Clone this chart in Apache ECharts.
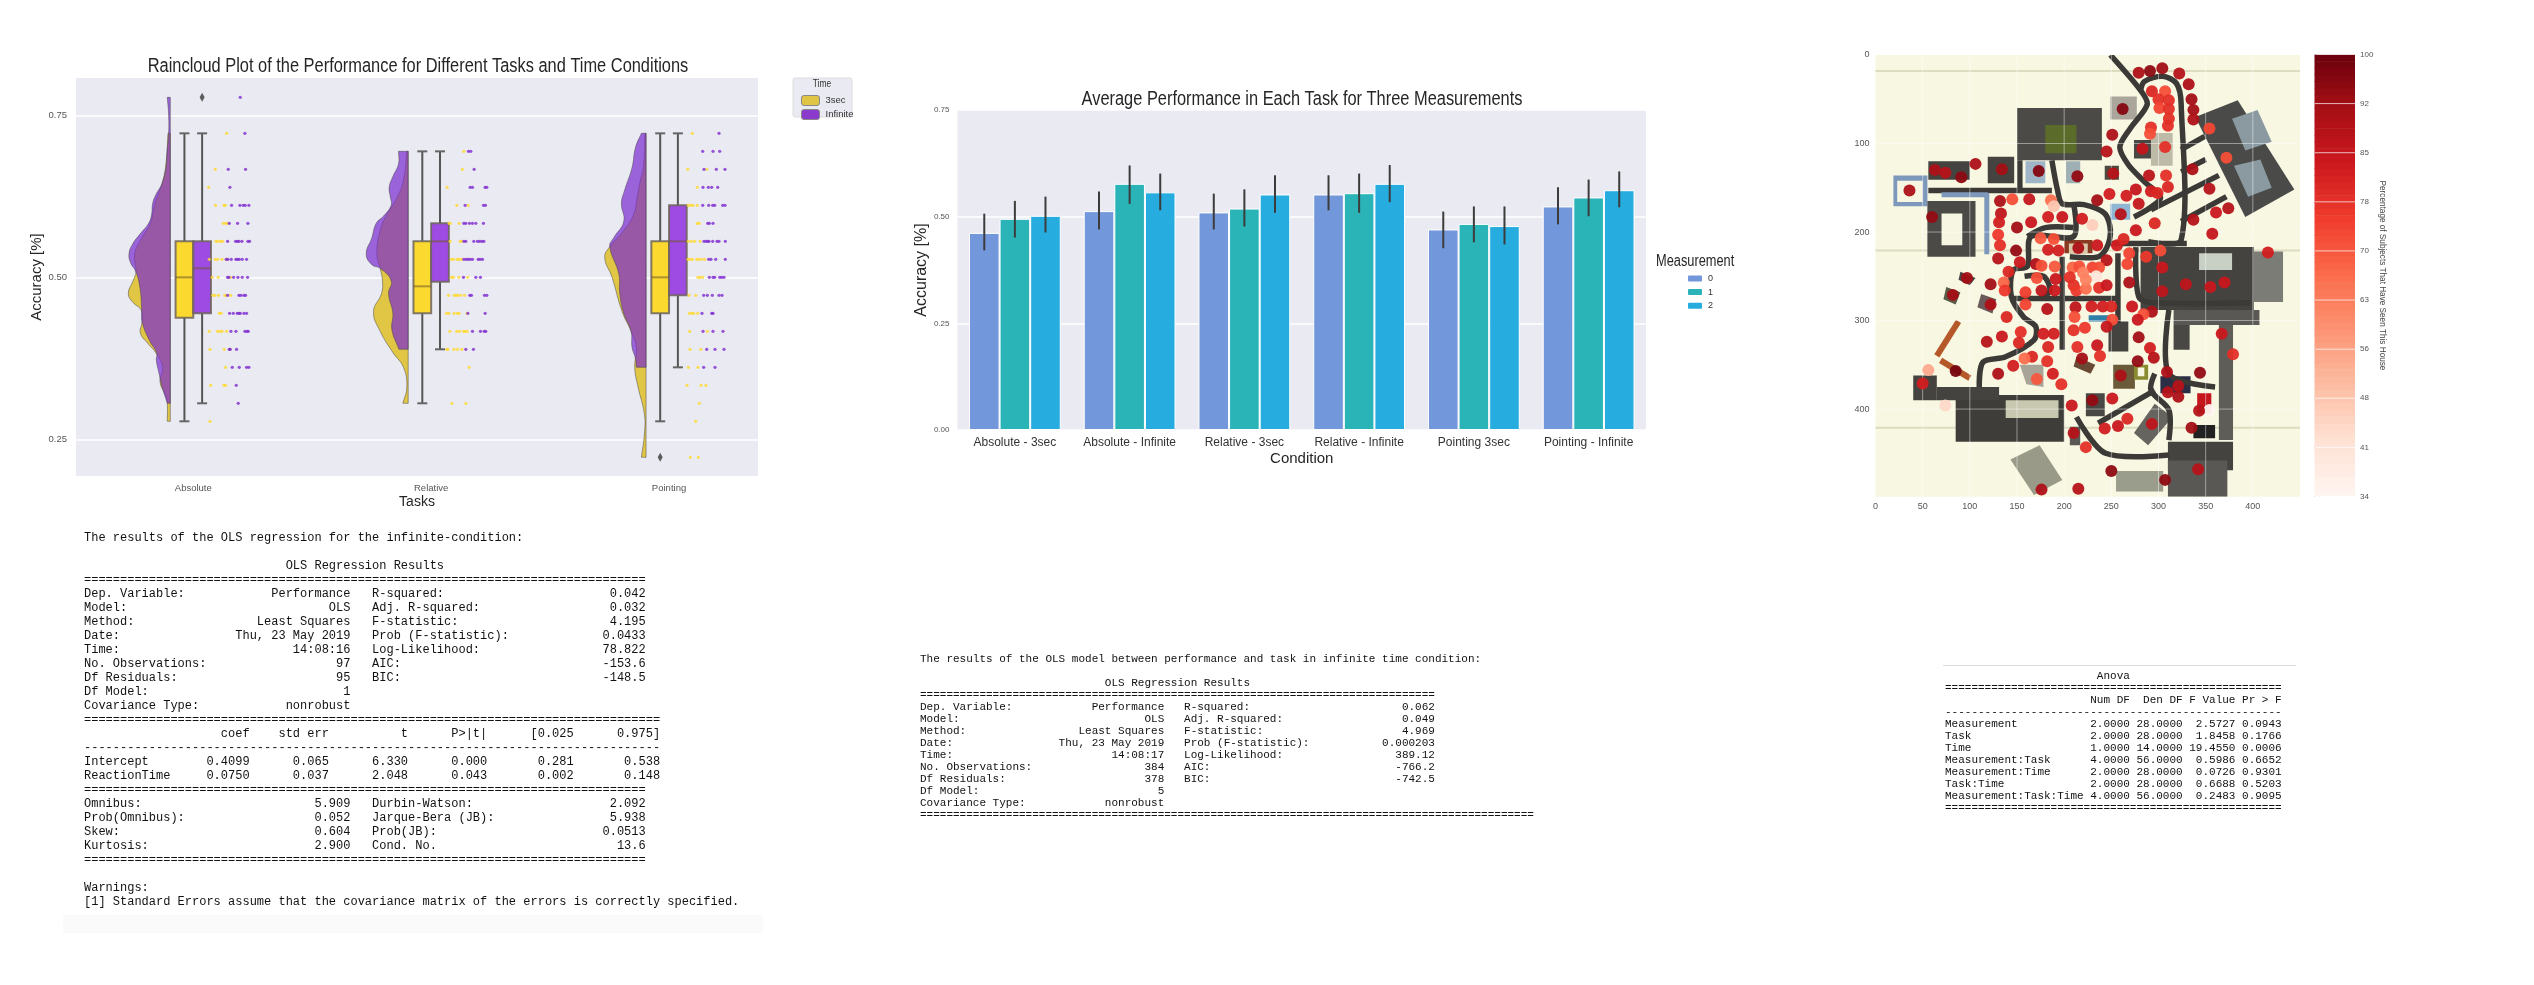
<!DOCTYPE html>
<html><head><meta charset="utf-8">
<style>html,body{margin:0;padding:0;background:#fff}#c{width:2534px;height:985px}</style>
<script src="https://cdn.jsdelivr.net/npm/echarts@6/dist/echarts.min.js"></script>
</head><body><div id="c"></div>
<script>
/* ---------- Raincloud chart data ---------- */
const tasks = ['Absolute', 'Relative', 'Pointing'];
const accuracyTicks = [0.25, 0.5, 0.75];
/* accuracy is stored in correct-answer levels (level / 36) */
const LEVELS = 36;
/* violin outlines: [level, density] */
const violin3sec = [
  [[26,7],[24.5,12],[23.4,22],[22.1,46],[21,60],[20.2,85],[19.3,107],[18.3,103],[17.8,112],[17.1,126],[16.6,112],[16.2,88],[15.5,85],[14.9,90],[14.3,66],[13.8,43],[13,23],[12.2,31],[11.4,13],[11,9],[10,9]],
  [[25,4],[23.4,14],[22.4,34],[21.5,64],[20.6,84],[19.3,94],[18.5,84],[17.8,77],[17.1,80],[16.1,104],[15,84],[13.8,45],[13,14],[11.9,4],[11,16]],
  [[26,3],[24.1,8],[23.4,17],[22.4,27],[21.5,37],[20.6,67],[19.7,109],[19.1,124],[18,102],[16.1,72],[15,45],[14.1,29],[13,34],[11.9,24],[10.4,5],[9.3,5],[8,14]]
];
const violinInfinite = [
  [[28,9],[27,5],[26,5],[24.9,10],[24.1,13],[23.2,25],[22.6,43],[22.1,53],[21.5,56],[21,65],[20.4,91],[19.85,113],[19.3,124],[18.8,119],[18.3,103],[17.4,91],[16.3,86],[15.5,84],[14.5,63],[13.8,41],[13.4,42],[12.6,33],[12,26],[11.4,16],[11,9]],
  [[25,29],[24.3,29],[23.6,46],[23,57],[22.5,54],[22,51],[21.4,74],[21,96],[20.2,109],[19.3,126],[18.7,109],[18.5,84],[17.8,51],[17.1,59],[16,46],[15.1,49],[14,28]],
  [[26,14],[25.2,32],[24.1,42],[22.8,65],[22.1,74],[21.1,67],[20.2,97],[19.7,109],[18.2,82],[17.1,79],[16,67],[15,45],[14.1,42],[13.5,32],[13,29]]
];
/* boxes: [low whisker, q1, median, q3, high whisker] */
const box3sec = [[0.2778,0.4375,0.5,0.5556,0.7222],[0.3056,0.4444,0.4861,0.5556,0.6944],[0.2778,0.4444,0.5,0.5556,0.7222]];
const boxInfinite = [[0.3056,0.4444,0.5139,0.5556,0.7222],[0.3889,0.4931,0.5556,0.5833,0.6944],[0.3611,0.4722,0.5556,0.6111,0.7222]];
/* rain rows: [level, jitter offsets] */
const rain3sec = [
  [[26,[100]],[24,[66]],[23,[46]],[22,[67,92,96]],[21,[90,97,103]],[20,[68,74,82,88]],[19,[48,66,73,86,100]],[18,[57,75,112]],[17,[59,65,76,95,100,112]],[16,[78,84]],[15,[48,73,80,86,100]],[14,[50,93,110]],[13,[97]],[12,[52,92,97]],[10,[50]]],
  [[25,[98]],[24,[94]],[23,[48]],[22,[77,111]],[21,[54,57,84]],[20,[57,87,92]],[19,[61,67,78,84,91]],[18,[61,67,83,110]],[17,[52,69,75,79,88,100]],[16,[46,53,69,79,84,108]],[15,[56,77,85,97,102,108]],[14,[47,50,68,79,92]],[13,[114]],[11,[62,104]]],
  [[26,[70]],[24,[56,113]],[23,[85]],[22,[58,64,72,85]],[21,[85,91]],[20,[58,67,77,93]],[19,[57,63,70,83,89,98,107]],[18,[87,93,101]],[17,[60,80]],[16,[61,68,74,86]],[15,[62,115]],[14,[63,95]],[13,[58,87]],[12,[54,96,111]],[11,[91]],[10,[80]],[8,[64,88]]]
];
const rainInfinite = [
  [[28,[141]],[26,[155]],[24,[105,157]],[23,[110]],[22,[115,140,150,156,167]],[21,[108,133,164]],[20,[103,127,133,137,146,164,169]],[19,[99,104,114,128,133,138,147,160]],[18,[103,107,121,134,147,163]],[17,[103,137,143,152,157]],[16,[109,120,132,137,141,152,160]],[15,[113,128,155,161,165]],[14,[108,111,130]],[13,[117,138,160,167]],[12,[129]],[11,[135]]],
  [[25,[112,119]],[24,[129]],[23,[117,124,162,167]],[22,[102,157,163]],[21,[98,104,115,124,134,157]],[20,[98,104,128,139,145,152,158]],[19,[98,105,111,117,124,141,147,154]],[18,[97,134,148]],[17,[116,121,160,167]],[16,[110,162]],[15,[124,148,159,164]],[14,[104,127]]],
  [[26,[150]],[25,[101,132,152]],[24,[105,142,168]],[23,[102,118,128,146]],[22,[101,119,131,137,161,168]],[21,[116,121,132]],[20,[105,111,116,120,131,144,150,169]],[19,[119,126,140,169]],[18,[121,132,137,152,158,165]],[17,[104,115,130,150,159]],[16,[99,128,132]],[15,[102,132,162]],[14,[113,138,165]],[13,[104,138]]]
];
/* ---------- Bar chart data ---------- */
const conditions = ['Absolute - 3sec','Absolute - Infinite','Relative - 3sec','Relative - Infinite','Pointing 3sec','Pointing - Infinite'];
const measurement0 = [0.462,0.513,0.510,0.552,0.470,0.524];
const measurement1 = [0.495,0.577,0.519,0.555,0.483,0.545];
const measurement2 = [0.502,0.557,0.552,0.577,0.478,0.562];
const errLow0 = [0.421,0.470,0.470,0.515,0.426,0.482];
const errHigh0 = [0.507,0.559,0.554,0.597,0.512,0.569];
const errLow1 = [0.451,0.530,0.477,0.509,0.440,0.501];
const errHigh1 = [0.537,0.620,0.564,0.601,0.524,0.587];
const errLow2 = [0.463,0.515,0.509,0.534,0.435,0.522];
const errHigh2 = [0.547,0.601,0.597,0.621,0.524,0.606];
/* ---------- House map data: [x, y, percentage] ---------- */
const houses = [[279,20,90],[291,18,95],[304,15,92],[322,21,88],[332,33,90],[335,50,92],[337,62,92],[337,73,90],[262,61,96],[293,41,80],[307,41,72],[300,50,78],[311,51,78],[301,60,74],[311,61,78],[311,72,78],[310,80,78],[292,82,78],[291,89,72],[354,83,73],[251,90,90],[245,109,88],[283,106,85],[307,104,78],[372,116,72],[336,129,90],[252,134,88],[290,136,87],[308,136,78],[354,151,88],[310,149,80],[292,154,82],[299,156,80],[276,152,85],[266,159,82],[248,157,82],[235,164,92],[279,168,85],[260,180,88],[374,173,88],[361,178,84],[337,186,88],[296,190,80],[276,198,84],[357,202,85],[219,185,82],[198,183,84],[183,183,82],[165,189,84],[150,195,92],[163,163,85],[145,163,72],[186,164,66],[189,171,48],[132,165,90],[133,179,86],[131,189,82],[130,203,76],[132,215,78],[149,221,94],[130,230,88],[153,234,84],[141,245,80],[136,257,68],[137,266,76],[122,259,92],[97,252,92],[82,271,92],[122,282,90],[159,268,75],[159,282,74],[139,296,80],[154,313,78],[134,318,84],[118,324,88],[152,325,80],[175,207,70],[189,208,72],[183,220,82],[194,221,82],[215,218,90],[235,215,84],[230,192,46],[256,215,82],[263,208,80],[245,232,88],[269,224,74],[267,236,74],[287,228,76],[302,221,72],[304,240,84],[304,267,86],[269,257,90],[329,259,86],[355,262,84],[370,257,84],[416,223,82],[170,236,90],[176,238,72],[190,239,70],[171,252,72],[191,253,84],[209,240,68],[216,239,72],[230,240,74],[237,240,72],[220,246,62],[234,250,40],[206,251,78],[210,260,78],[213,266,76],[223,264,66],[237,263,78],[245,260,84],[223,254,62],[176,266,86],[190,266,84],[182,287,88],[212,285,86],[229,284,82],[241,284,82],[250,284,80],[272,284,84],[293,290,90],[284,293,72],[278,299,84],[251,299,72],[211,296,72],[222,308,76],[210,311,78],[245,307,85],[178,315,82],[189,315,82],[279,319,92],[183,330,80],[214,330,78],[235,328,84],[291,331,82],[219,343,92],[238,340,78],[166,341,80],[158,343,66],[182,346,78],[146,351,82],[278,346,94],[295,342,88],[85,357,98],[56,356,54],[130,360,90],[188,360,82],[171,366,70],[260,362,90],[309,358,90],[344,359,94],[197,372,78],[50,371,82],[321,374,88],[310,381,88],[321,386,90],[367,315,84],[379,338,78],[230,390,94],[251,388,84],[208,396,84],[74,396,44],[354,401,34],[343,402,88],[267,411,80],[293,417,86],[257,419,84],[243,422,82],[335,421,92],[210,427,88],[223,443,78],[250,470,95],[342,468,88],[307,480,95],[215,490,88],[176,491,90],[36,153,90],[63,130,90],[74,133,88],[91,138,95],[106,123,90],[134,129,92],[173,131,96],[214,137,94],[60,183,94]];
const mapXTicks = [0,50,100,150,200,250,300,350,400];
const mapYTicks = [0,100,200,300,400];
const colorbarTicks = [34,41.33,48.67,56,63.33,70.67,78,85.33,92.67,100];
const redsRamp = ['#fff5f0','#fee0d2','#fcbba1','#fc9272','#fb6a4a','#ef3b2c','#cb181d','#a50f15','#67000d'];
/* underlying town map, in map coordinates */
const mapBlockShapes = [
 [[150,60],[240,60],[240,119],[150,119]],
 [[384,51],[444,152],[392,183],[339,70]],
 [[19,136],[55,136],[55,171],[19,171]],
 [[23,142],[50,142],[50,166],[23,166]],
 [[55,165],[106,165],[106,228],[55,228]],
 [[70,179],[92,179],[92,215],[70,215]],
 [[119,115],[147,115],[147,145],[119,145]],
 [[56,120],[100,120],[100,141],[56,141]],
 [[281,217],[401,217],[401,288],[281,288]],
 [[401,222],[432,222],[432,279],[401,279]],
 [[316,288],[407,288],[407,305],[316,305]],
 [[364,305],[379,305],[379,435],[364,435]],
 [[316,305],[333,305],[333,333],[316,333]],
 [[85,384],[200,384],[200,437],[85,437]],
 [[65,375],[131,375],[131,390],[65,390]],
 [[310,437],[379,437],[379,469],[310,469]],
 [[310,458],[373,458],[373,499],[310,499]],
 [[143,457],[174,441],[198,480],[168,497]],
 [[255,470],[305,470],[305,493],[255,493]],
 [[296,394],[315,409],[289,441],[274,427]],
 [[40,362],[65,362],[65,390],[40,390]],
 [[247,301],[268,301],[268,335],[247,335]],
 [[249,47],[277,47],[277,73],[249,73]],
 [[274,96],[294,96],[294,117],[274,117]],
 [[180,79],[213,79],[213,111],[180,111]],
 [[292,88],[315,88],[315,125],[292,125]],
 [[138,390],[194,390],[194,410],[138,410]],
 [[378,72],[405,62],[420,98],[392,108]],
 [[380,125],[408,118],[420,150],[395,160]],
 [[343,224],[378,224],[378,243],[343,243]],
 [[112,270],[128,276],[124,292],[108,285]],
 [[75,262],[90,268],[85,282],[72,276]],
 [[90,245],[106,252],[100,260],[88,254]],
 [[252,350],[275,350],[275,377],[252,377]],
 [[213,341],[233,350],[228,360],[210,352]],
 [[153,350],[178,350],[178,375],[160,372]],
 [[226,294],[249,294],[249,301],[226,301]],
 [[249,168],[270,168],[270,186],[249,186]],
 [[202,120],[217,120],[217,145],[202,145]],
 [[159,120],[180,120],[180,145],[159,145]],
 [[243,125],[258,125],[258,141],[243,141]],
 [[206,420],[217,420],[217,441],[206,441]],
 [[223,382],[243,382],[243,408],[223,408]],
 [[302,363],[334,363],[334,382],[302,382]],
 [[337,418],[360,418],[360,433],[337,433]],
 [[341,382],[356,382],[356,405],[341,405]],
 [[274,350],[289,350],[289,367],[274,367]],
 [[278,353],[285,353],[285,363],[278,363]],
 [[200,209],[230,209],[230,224],[200,224]],
 [[205,213],[225,213],[225,224],[205,224]]
];
const mapBlockColors = ['#4c4a46','#4a4a48','#7d98bb','#f7f6e2','#4c4a46','#f7f6e2','#45433f','#45433f','#45433f','#7c7c76','#5a5854','#5f5d58','#4a4844','#3f3d3a','#45433f','#45433f','#5a5854','#9a9a88','#9a9c8c','#66645f','#45433f','#45433f','#aaa69c','#4a4844','#5a6b2a','#bdbaa8','#c8c8b0','#8a9aa0','#8a9aa0','#c8cfc4','#6b5a5a','#5a5a48','#444444','#6b5a3a','#6a4a35','#a8a498','#2f7fa8','#8fb6d2','#9fb0b5','#9fb6c8','#4c4a40','#5a5854','#4a4844','#2a2f45','#222222','#c4161c','#8a8a30','#f7f6e2','#8a3a20','#d9c9a9'];
const mapRoads = [
 [[249,0],[281,40],[288,56],[270,83],[259,104],[268,124],[285,143],[302,162],[274,183]],
 [[281,40],[285,30],[304,24],[319,32],[324,55],[324,209],[289,211]],
 [[364,136],[292,175]],[[372,160],[324,188]],[[349,92],[324,107]],[[350,118],[324,132]],
 [[56,153],[187,153]],[[153,153],[153,119]],
 [[187,119],[193,153],[198,168],[221,169],[243,179],[249,198],[245,218],[236,228],[206,228]],
 [[210,168],[210,205],[165,205],[161,239],[146,243],[144,273],[157,296],[170,307],[168,322],[138,341],[114,347],[110,375]],
 [[144,275],[257,275]],[[198,228],[198,333]],[[257,224],[257,303]],[[249,213],[330,213]],
 [[311,288],[311,360],[360,375]],[[296,360],[292,379],[311,401],[311,435]],[[236,416],[296,379]],
 [[213,409],[244,450],[311,452]],[[276,217],[279,273],[296,280],[398,280]],
 [[161,205],[180,195],[210,195]],[[158,250],[178,250],[185,265],[178,275]]
];
const mapBlueRoads = [[[70,158],[118,158],[118,225]]];
const mapOrangeRoads = [[[88,301],[65,340]],[[69,345],[100,365]]];
const mapGuides = [[[0,18],[450,18]],[[0,221],[450,221]],[[0,421],[450,421]]];
const mapGridLines = [[[50,0],[50,499]],[[100,0],[100,499]],[[150,0],[150,499]],[[200,0],[200,499]],[[250,0],[250,499]],[[300,0],[300,499]],[[350,0],[350,499]],[[400,0],[400,499]],[[0,100],[450,100]],[[0,200],[450,200]],[[0,300],[450,300]],[[0,400],[450,400]]];

/* ---------- Text panels ---------- */
const ols1Lines = [
'The results of the OLS regression for the infinite-condition:',
'',
'                            OLS Regression Results',
'==============================================================================',
'Dep. Variable:            Performance   R-squared:                       0.042',
'Model:                            OLS   Adj. R-squared:                  0.032',
'Method:                 Least Squares   F-statistic:                     4.195',
'Date:                Thu, 23 May 2019   Prob (F-statistic):             0.0433',
'Time:                        14:08:16   Log-Likelihood:                 78.822',
'No. Observations:                  97   AIC:                            -153.6',
'Df Residuals:                      95   BIC:                            -148.5',
'Df Model:                           1',
'Covariance Type:            nonrobust',
'================================================================================',
'                   coef    std err          t      P>|t|      [0.025      0.975]',
'--------------------------------------------------------------------------------',
'Intercept        0.4099      0.065      6.330      0.000       0.281       0.538',
'ReactionTime     0.0750      0.037      2.048      0.043       0.002       0.148',
'==============================================================================',
'Omnibus:                        5.909   Durbin-Watson:                   2.092',
'Prob(Omnibus):                  0.052   Jarque-Bera (JB):                5.938',
'Skew:                           0.604   Prob(JB):                       0.0513',
'Kurtosis:                       2.900   Cond. No.                         13.6',
'==============================================================================',
'',
'Warnings:',
'[1] Standard Errors assume that the covariance matrix of the errors is correctly specified.'];
const ols2Lines = [
'The results of the OLS model between performance and task in infinite time condition:',
'',
'                            OLS Regression Results',
'==============================================================================',
'Dep. Variable:            Performance   R-squared:                       0.062',
'Model:                            OLS   Adj. R-squared:                  0.049',
'Method:                 Least Squares   F-statistic:                     4.969',
'Date:                Thu, 23 May 2019   Prob (F-statistic):           0.000203',
'Time:                        14:08:17   Log-Likelihood:                 389.12',
'No. Observations:                 384   AIC:                            -766.2',
'Df Residuals:                     378   BIC:                            -742.5',
'Df Model:                           5',
'Covariance Type:            nonrobust',
'============================================================================================='];
const anovaLines = [
'                       Anova',
'===================================================',
'                      Num DF  Den DF F Value Pr > F',
'---------------------------------------------------',
'Measurement           2.0000 28.0000  2.5727 0.0943',
'Task                  2.0000 28.0000  1.8458 0.1766',
'Time                  1.0000 14.0000 19.4550 0.0006',
'Measurement:Task      4.0000 56.0000  0.5986 0.6652',
'Measurement:Time      2.0000 28.0000  0.0726 0.9301',
'Task:Time             2.0000 28.0000  0.6688 0.5203',
'Measurement:Task:Time 4.0000 56.0000  0.2483 0.9095',
'==================================================='];

/* ---------- Styling ---------- */
const SANS = '"Liberation Sans",sans-serif';
const MONO = '"Liberation Mono",monospace';
const BG = '#EAEAF2';
const YEL_V = 'rgba(221,185,11,0.75)', PUR_V = 'rgba(121,41,206,0.7)';
const YEL_B = '#FBD92F', PUR_B = '#9E4BE4';
const JITTER = 1/714, BOXW = 0.0744, CAP = 0.021, VBASE = -0.0966;

function violinSeries(name, arrays, fill, legendColor, z) {
  return {
    type: 'custom', name, xAxisIndex: 0, yAxisIndex: 0, z,
    itemStyle: {color: legendColor},
    data: arrays.map((_, i) => [i]),
    renderItem(p, api) {
      const i = p.dataIndex, rows = arrays[i], base = i + VBASE;
      const pts = [];
      const first = rows[0], last = rows[rows.length - 1];
      const top = api.coord([base, first[0] / LEVELS]);
      pts.push(top, top);
      pts.push(api.coord([base - first[1]*JITTER, first[0]/LEVELS]));
      rows.forEach(r => pts.push(api.coord([base - r[1]*JITTER, r[0]/LEVELS])));
      pts.push(api.coord([base - last[1]*JITTER, last[0]/LEVELS]));
      const bot = api.coord([base, last[0]/LEVELS]);
      pts.push(bot, bot);
      return {type:'polygon', shape:{points:pts, smooth:0.45}, style:{fill, stroke:'rgba(70,70,70,0.5)', lineWidth:1}};
    }
  };
}
function boxSeries(name, boxes, dir, color, z) {
  return {
    type:'custom', name, xAxisIndex:0, yAxisIndex:0, z,
    itemStyle:{color},
    data: boxes.map((b,i)=>[i].concat(b)),
    renderItem(p, api) {
      const t = api.value(0), lo = api.value(1), q1 = api.value(2), med = api.value(3), q3 = api.value(4), hi = api.value(5);
      const x0 = t + (dir<0 ? -BOXW : 0), x1 = t + (dir<0 ? 0 : BOXW), xc = (x0+x1)/2;
      const line = (a,b,c,d,st)=>({type:'line', shape:{x1:api.coord([a,b])[0],y1:api.coord([a,b])[1],x2:api.coord([c,d])[0],y2:api.coord([c,d])[1]}, style:st});
      const w = {stroke:'#555', lineWidth:2}, m = {stroke:'rgba(110,90,40,0.55)', lineWidth:2};
      const tl = api.coord([x0,q3]), br = api.coord([x1,q1]);
      return {type:'group', children:[
        line(xc,hi,xc,q3,w), line(xc,q1,xc,lo,w),
        line(xc-CAP,hi,xc+CAP,hi,{stroke:'#666',lineWidth:2}), line(xc-CAP,lo,xc+CAP,lo,{stroke:'#666',lineWidth:2}),
        {type:'rect', shape:{x:tl[0],y:tl[1],width:br[0]-tl[0],height:br[1]-tl[1]}, style:{fill:color, stroke:'rgba(110,100,90,0.85)', lineWidth:2}},
        line(x0,med,x1,med,m)
      ]};
    }
  };
}
function rainData(rows) {
  const out = [];
  rows.forEach((task, i) => task.forEach(([lvl, offs]) => offs.forEach(o => out.push([i + o*JITTER, lvl/LEVELS]))));
  return out;
}
function errSeries(low, high, idx) {
  return {
    type:'custom', xAxisIndex:1, yAxisIndex:1, z:6,
    data: low.map((v,i)=>[i,v,high[i]]),
    renderItem(p, api) {
      const i = api.value(0), band = api.size([1,0])[0];
      const off = (idx-1)*band*0.8/3;
      const a = api.coord([i, api.value(1)]), b = api.coord([i, api.value(2)]);
      return {type:'line', shape:{x1:a[0]+off,y1:a[1],x2:b[0]+off,y2:b[1]}, style:{stroke:'#3c3c3c', lineWidth:2}};
    }
  };
}
const polyRender = (list, colors) => (p, api) => {
  const pts = list[p.dataIndex].map(q => api.coord(q));
  return {type:'polygon', shape:{points:pts}, style:{fill:colors[p.dataIndex]}};
};
const lineRender = (list, stroke, lineWidth, smooth) => (p, api) => {
  const pts = list[p.dataIndex].map(q => api.coord(q));
  return {type:'polyline', shape:{points:pts, smooth}, style:{stroke, lineWidth, fill:null, lineJoin:'round'}};
};
const mapLines = (list, stroke, lineWidth, smooth, z) => ({type:'custom', xAxisIndex:2, yAxisIndex:2, z, clip:true, data:list.map((_,i)=>[i]), renderItem:lineRender(list,stroke,lineWidth,smooth)});
const tickLabel = {color:'#555', fontFamily:SANS};
function redsLevels(){ const o=[]; for(let v=34;v<100;v++) o.push([0,v,v]); return o; }

const option = {
  animation:false,
  backgroundColor:'#fff',
  grid:[
    {left:76, top:78, width:682, height:398, show:true, backgroundColor:BG, borderWidth:0},
    {left:957.5, top:110, width:688.5, height:320, show:true, backgroundColor:BG, borderWidth:0},
    {left:1875.5, top:55, width:424.5, height:441.7, show:true, backgroundColor:'#F8F7E2', borderWidth:0},
    {left:2314.5, top:54.5, width:40.5, height:442, show:false}
  ],
  xAxis:[
    {gridIndex:0, type:'value', min:-0.493, max:2.374, name:'Tasks', nameLocation:'middle', nameGap:19,
      nameTextStyle:{fontFamily:SANS, fontSize:14, color:'#262626'},
      axisLine:{show:false}, splitLine:{show:false}, axisTick:{show:false, customValues:[0,1,2]},
      axisLabel:{...tickLabel, fontSize:9.5, margin:7, customValues:[0,1,2], formatter:v=>tasks[v]}},
    {gridIndex:1, type:'category', data:conditions, name:'Condition', nameLocation:'middle', nameGap:21,
      nameTextStyle:{fontFamily:SANS, fontSize:15, color:'#262626'},
      axisLine:{show:false}, axisTick:{show:false}, splitLine:{show:false},
      axisLabel:{fontFamily:SANS, color:'#333', fontSize:12, margin:7, interval:0}},
    {gridIndex:2, type:'value', min:0, max:450, axisLine:{show:false}, splitLine:{show:false},
      axisTick:{show:false, customValues:mapXTicks},
      axisLabel:{...tickLabel, fontSize:9, margin:5, customValues:mapXTicks}},
    {gridIndex:3, type:'value', min:0, max:1, show:false}
  ],
  yAxis:[
    {gridIndex:0, type:'value', min:0.1934, max:0.8076, name:'Accuracy [%]', nameLocation:'middle', nameGap:26, nameRotate:90,
      nameTextStyle:{fontFamily:SANS, fontSize:15, color:'#262626'},
      axisLine:{show:false}, splitLine:{show:true, lineStyle:{color:'#fff', width:1.5}},
      axisTick:{show:false, customValues:accuracyTicks},
      axisLabel:{...tickLabel, fontSize:9.5, margin:9, customValues:accuracyTicks, formatter:v=>v.toFixed(2)}},
    {gridIndex:1, type:'value', min:0, max:0.75, interval:0.25, name:'Accuracy [%]', nameLocation:'middle', nameGap:25, nameRotate:90,
      nameTextStyle:{fontFamily:SANS, fontSize:16, color:'#262626'},
      axisLine:{show:false}, axisTick:{show:false}, splitLine:{show:true, lineStyle:{color:'#fff', width:1.5}},
      axisLabel:{...tickLabel, fontSize:8, margin:8, formatter:v=>v.toFixed(2)}},
    {gridIndex:2, type:'value', min:0, max:499, inverse:true, axisLine:{show:false}, splitLine:{show:false},
      axisTick:{show:false, customValues:mapYTicks},
      axisLabel:{...tickLabel, fontSize:9, margin:6, customValues:mapYTicks}},
    {gridIndex:3, type:'value', min:34, max:100, position:'right', name:'Percentage of Subjects That Have Seen This House',
      nameLocation:'middle', nameRotate:-90, nameGap:23, nameTextStyle:{fontFamily:SANS, fontSize:8.2, color:'#444'},
      axisLine:{show:false}, splitLine:{show:false},
      axisTick:{show:true, length:3, lineStyle:{color:'#666'}, customValues:colorbarTicks},
      axisLabel:{color:'#555', fontFamily:SANS, fontSize:8, margin:5, customValues:colorbarTicks, formatter:v=>String(Math.floor(v))}}
  ],
  visualMap:[{show:false, type:'continuous', min:34, max:100, dimension:2, seriesId:['houses','colorbar'], inRange:{color:redsRamp}}],
  legend:[
    {left:796, top:90, orient:'vertical', itemWidth:18, itemHeight:10, itemGap:3, data:['3sec','Infinite'],
      textStyle:{fontFamily:SANS, fontSize:9.5, color:'#333', padding:[0,0,0,1]}, selectedMode:false,
      itemStyle:{borderColor:'#888', borderWidth:1}},
    {left:1681, top:268.5, orient:'vertical', itemWidth:16, itemHeight:8, itemGap:3.6, data:['0','1','2'],
      textStyle:{fontFamily:SANS, fontSize:9, color:'#333'}, selectedMode:false}
  ],
  graphic:{elements:[
    {type:'rect', silent:true, z:-1, shape:{x:63,y:915,width:700,height:18}, style:{fill:'#FAFAFA'}},
    {type:'rect', silent:true, z:-1, shape:{x:793,y:78,width:59,height:39, r:2}, style:{fill:BG, stroke:'#ddd'}},
    {type:'text', silent:true, x:418, y:66, scaleX:0.82, style:{text:'Raincloud Plot of the Performance for Different Tasks and Time Conditions', fontFamily:SANS, fontSize:20, fill:'#262626', align:'center', verticalAlign:'middle'}},
    {type:'text', silent:true, x:1302, y:99, scaleX:0.82, style:{text:'Average Performance in Each Task for Three Measurements', fontFamily:SANS, fontSize:20, fill:'#262626', align:'center', verticalAlign:'middle'}},
    {type:'text', silent:true, x:822, y:84, scaleX:0.85, style:{text:'Time', fontFamily:SANS, fontSize:10, fill:'#333', align:'center', verticalAlign:'middle'}},
    {type:'text', silent:true, x:1656, y:262, scaleX:0.8, style:{text:'Measurement', fontFamily:SANS, fontSize:16, fill:'#262626', verticalAlign:'middle'}},
    {type:'text', silent:true, x:84, y:531.3, style:{text:ols1Lines.join('\n'), fontFamily:MONO, fontSize:12, lineHeight:14, fill:'#111', verticalAlign:'top'}},
    {type:'text', silent:true, x:920, y:653, style:{text:ols2Lines.join('\n'), fontFamily:MONO, fontSize:11, lineHeight:12, fill:'#111', verticalAlign:'top'}},
    {type:'text', silent:true, x:1945, y:669.7, style:{text:anovaLines.join('\n'), fontFamily:MONO, fontSize:11, lineHeight:12, fill:'#111', verticalAlign:'top'}},
    {type:'line', silent:true, shape:{x1:1943,y1:665.5,x2:2296,y2:665.5}, style:{stroke:'#ddd', lineWidth:1}}
  ]},
  series:[
    violinSeries('3sec', violin3sec, YEL_V, '#E0C545', 2),
    violinSeries('Infinite', violinInfinite, PUR_V, '#8A3BCB', 3),
    boxSeries('3sec box', box3sec, -1, YEL_B, 4),
    boxSeries('Infinite box', boxInfinite, 1, PUR_B, 4),
    {type:'scatter', name:'3sec rain', xAxisIndex:0, yAxisIndex:0, symbolSize:3.2, z:5, itemStyle:{color:'#FFD92E'}, data:rainData(rain3sec)},
    {type:'scatter', name:'Infinite rain', xAxisIndex:0, yAxisIndex:0, symbolSize:3.2, z:5, itemStyle:{color:'#7E2BD0'}, data:rainData(rainInfinite)},
    {type:'scatter', name:'outliers', xAxisIndex:0, yAxisIndex:0, symbol:'diamond', symbolSize:[5,9], z:5, itemStyle:{color:'#3a3a3a'}, data:[[BOXW/2,28/LEVELS],[-BOXW/2+2,8/LEVELS]]},

    {type:'bar', name:'0', xAxisIndex:1, yAxisIndex:1, data:measurement0, barCategoryGap:'20%', barGap:0, itemStyle:{color:'#7397DB', borderColor:'#fff', borderWidth:1}},
    {type:'bar', name:'1', xAxisIndex:1, yAxisIndex:1, data:measurement1, itemStyle:{color:'#2AB4B8', borderColor:'#fff', borderWidth:1}},
    {type:'bar', name:'2', xAxisIndex:1, yAxisIndex:1, data:measurement2, itemStyle:{color:'#27ACE0', borderColor:'#fff', borderWidth:1}},
    errSeries(errLow0, errHigh0, 0), errSeries(errLow1, errHigh1, 1), errSeries(errLow2, errHigh2, 2),

    mapLines(mapGuides,'#DDDCC0',2,0,2),
    {type:'custom', xAxisIndex:2, yAxisIndex:2, z:3, clip:true, data:mapBlockShapes.map((_,i)=>[i]), renderItem:polyRender(mapBlockShapes,mapBlockColors)},
    mapLines(mapRoads,'#3C3A37',5.5,0.3,4),
    mapLines(mapBlueRoads,'#7d98bb',5,0,4),
    mapLines(mapOrangeRoads,'#b5592a',6,0,4),
    mapLines(mapGridLines,'rgba(255,255,255,0.45)',1,0,4.5),
    {type:'scatter', id:'houses', xAxisIndex:2, yAxisIndex:2, symbolSize:12, z:5, data:houses, itemStyle:{opacity:0.95}},
    {type:'custom', id:'colorbar', xAxisIndex:3, yAxisIndex:3, z:3,
      data:redsLevels(), encode:{x:0,y:1},
      renderItem(p, api) {
        const v = api.value(1);
        const a = api.coord([0, Math.min(v+1,100)]), b = api.coord([1, v]);
        return {type:'rect', shape:{x:a[0],y:a[1],width:b[0]-a[0],height:b[1]-a[1]+0.6}, style:{fill:api.visual('color')}};
      }},
    {type:'custom', xAxisIndex:3, yAxisIndex:3, z:4, data:colorbarTicks.map(v=>[0,v]), renderItem(p, api){
        const a = api.coord([0,api.value(1)]), b = api.coord([1,api.value(1)]);
        return {type:'line', shape:{x1:a[0],y1:a[1],x2:b[0],y2:b[1]}, style:{stroke:'rgba(255,255,255,0.7)', lineWidth:1}};
      }}
  ]
};
const chart = echarts.init(document.getElementById('c'), null, {renderer:'canvas'});
chart.setOption(option);
</script></body></html>
